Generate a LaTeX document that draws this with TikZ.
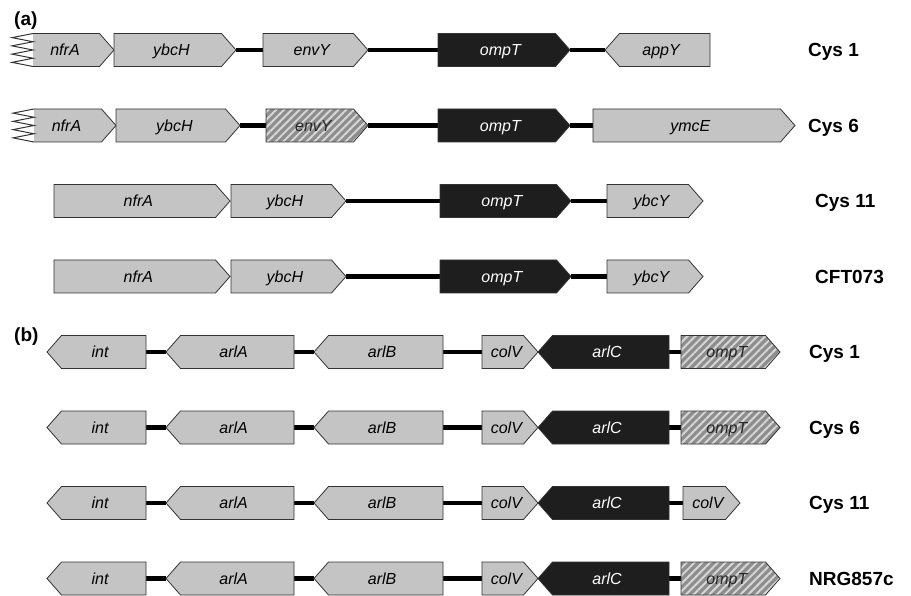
\documentclass[tikz,border=0pt]{standalone}
\usepackage{fontspec}
\setmainfont{Liberation Sans}
\usetikzlibrary{patterns.meta,backgrounds}

\definecolor{genegray}{HTML}{C4C4C4}
\definecolor{genedark}{HTML}{1E1E1E}
\definecolor{hatchbase}{HTML}{8E8E8E}
\definecolor{hatchline}{HTML}{D8D8D8}
\definecolor{edgegray}{HTML}{333333}

% half height of a gene arrow and length of its pointed end
\newcommand\hh{16.5}
\newcommand\tl{14.5}

\tikzset{
  genebox/.style={draw=edgegray, line width=0.8pt, line join=miter},
  grayfill/.style={fill=genegray},
  darkfill/.style={fill=genedark},
  hatchfill/.style={preaction={fill=hatchbase},
    pattern={Lines[angle=45,distance=5.5pt,line width=1.9pt]},
    pattern color=hatchline},
  genelabel/.style={inner sep=0pt, text height=11.5pt, text depth=0pt,
    font=\fontsize{16}{16}\selectfont\itshape},
  grayfill label/.style={text=black},
  darkfill label/.style={text=white},
  hatchfill label/.style={text=black!85},
  rowlabel/.style={anchor=west, inner sep=0pt, text height=13.6pt, text depth=0pt,
    font=\fontsize{19}{19}\selectfont\bfseries},
  panellabel/.style={anchor=west, inner sep=0pt, font=\fontsize{19}{19}\selectfont\bfseries},
  spacer/.style={line width=4.5pt, black},
}

% gene pointing right: id, left x, tip x, row y, fill style, name
\newcommand{\fwdgene}[6]{%
  \path[genebox,#5] (#2,#4-\hh) -- ({#3-\tl},#4-\hh) -- (#3,#4)
    -- ({#3-\tl},#4+\hh) -- (#2,#4+\hh) -- cycle;
  \coordinate (#1-w) at (#2,#4);
  \coordinate (#1-e) at (#3,#4);
  \node[genelabel,#5 label] (#1) at ({(#2+#3)/2-3.6},#4) {#6};
}
% gene pointing left: id, tip x, right x, row y, fill style, name
\newcommand{\revgene}[6]{%
  \path[genebox,#5] (#3,#4-\hh) -- ({#2+\tl},#4-\hh) -- (#2,#4)
    -- ({#2+\tl},#4+\hh) -- (#3,#4+\hh) -- cycle;
  \coordinate (#1-w) at (#2,#4);
  \coordinate (#1-e) at (#3,#4);
  \node[genelabel,#5 label] (#1) at ({(#2+#3)/2+3.6},#4) {#6};
}
% truncated gene with a zigzag left end: id, zigzag x, body x, tip x, row y, name
\newcommand{\cutgene}[6]{%
  \fill[genegray] (#3,#5-\hh) -- ({#4-\tl},#5-\hh) -- (#4,#5)
    -- ({#4-\tl},#5+\hh) -- (#3,#5+\hh) -- cycle;
  \draw[genebox] (#3,#5-\hh) -- ({#4-\tl},#5-\hh) -- (#4,#5)
    -- ({#4-\tl},#5+\hh) -- (#3,#5+\hh);
  \draw[genebox, line width=1pt] (#3,#5-\hh) \foreach \k in {1,...,8} {
    -- ({ifthenelse(isodd(\k),#2,#3)},{#5-\hh+\k*\hh/4})};
  \coordinate (#1-w) at (#2,#5);
  \coordinate (#1-e) at (#4,#5);
  \node[genelabel,grayfill label] (#1) at ({(#2+#4)/2+2},#5) {#6};
}
% the five genes shared by every row of panel (b)
\newcommand{\arlrow}[2]{%
  \revgene{#1int}{47}{146}{#2}{grayfill}{int}
  \revgene{#1arlA}{166}{294}{#2}{grayfill}{arlA}
  \revgene{#1arlB}{314}{443}{#2}{grayfill}{arlB}
  \fwdgene{#1colV}{482}{538}{#2}{grayfill}{colV}
  \revgene{#1arlC}{538}{669}{#2}{darkfill}{arlC}
}

\begin{document}
\begin{tikzpicture}[x=1pt,y=-1pt]
\useasboundingbox (0,0) rectangle (911,596);
\begin{pgfonlayer}{background}
  \fill[white] (0,0) rectangle (911,596);
\end{pgfonlayer}

% ---------- panel (a) ----------
\node[panellabel] (pa) at (14,21) {(a)};

% Cys 1
\cutgene{aonfrA}{12}{33}{114}{50}{nfrA}
\fwdgene{aoybcH}{114}{236}{50}{grayfill}{ybcH}
\fwdgene{aoenvY}{263}{368}{50}{grayfill}{envY}
\fwdgene{aoompT}{438}{570}{50}{darkfill}{ompT}
\revgene{aoappY}{605}{710}{50}{grayfill}{appY}
\node[rowlabel] (la1) at (808,50) {Cys 1};

% Cys 6
\cutgene{asnfrA}{13}{34}{116}{125.5}{nfrA}
\fwdgene{asybcH}{116}{240}{125.5}{grayfill}{ybcH}
\fwdgene{asenvY}{266}{368}{125.5}{hatchfill}{envY}
\fwdgene{asompT}{438}{570}{125.5}{darkfill}{ompT}
\fwdgene{asymcE}{593}{795}{125.5}{grayfill}{ymcE}
\node[rowlabel] (la2) at (808,125.5) {Cys 6};

% Cys 11
\fwdgene{aenfrA}{54}{230}{201}{grayfill}{nfrA}
\fwdgene{aeybcH}{231}{346}{201}{grayfill}{ybcH}
\fwdgene{aeompT}{440}{571}{201}{darkfill}{ompT}
\fwdgene{aeybcY}{607}{703}{201}{grayfill}{ybcY}
\node[rowlabel] (la3) at (815,201) {Cys 11};

% CFT073
\fwdgene{acnfrA}{54}{230}{276.5}{grayfill}{nfrA}
\fwdgene{acybcH}{231}{346}{276.5}{grayfill}{ybcH}
\fwdgene{acompT}{440}{571}{276.5}{darkfill}{ompT}
\fwdgene{acybcY}{607}{703}{276.5}{grayfill}{ybcY}
\node[rowlabel] (la4) at (815,276.5) {CFT073};

% ---------- panel (b) ----------
\node[panellabel] (pb) at (14,337) {(b)};

\arlrow{bo}{352}
\fwdgene{boompT}{681}{780}{352}{hatchfill}{ompT}
\node[rowlabel] (lb1) at (809,352) {Cys 1};

\arlrow{bs}{427.5}
\fwdgene{bsompT}{681}{780}{427.5}{hatchfill}{ompT}
\node[rowlabel] (lb2) at (809,427.5) {Cys 6};

\arlrow{be}{503}
\fwdgene{becolVb}{683}{740}{503}{grayfill}{colV}
\node[rowlabel] (lb3) at (809,503) {Cys 11};

\arlrow{bn}{578.5}
\fwdgene{bnompT}{681}{780}{578.5}{hatchfill}{ompT}
\node[rowlabel] (lb4) at (809,578.5) {NRG857c};

% ---------- intergenic spacers ----------
\begin{pgfonlayer}{background}
  \draw[spacer] (aoybcH-e) -- (aoenvY-w);
  \draw[spacer] (aoenvY-e) -- (aoompT-w);
  \draw[spacer] (aoompT-e) -- (aoappY-w);
  \draw[spacer] (asybcH-e) -- (asenvY-w);
  \draw[spacer] (asenvY-e) -- (asompT-w);
  \draw[spacer] (asompT-e) -- (asymcE-w);
  \draw[spacer] (aeybcH-e) -- (aeompT-w);
  \draw[spacer] (aeompT-e) -- (aeybcY-w);
  \draw[spacer] (acybcH-e) -- (acompT-w);
  \draw[spacer] (acompT-e) -- (acybcY-w);
  \foreach \r/\last in {bo/boompT, bs/bsompT, be/becolVb, bn/bnompT} {
    \draw[spacer] (\r int-e) -- (\r arlA-w);
    \draw[spacer] (\r arlA-e) -- (\r arlB-w);
    \draw[spacer] (\r arlB-e) -- (\r colV-w);
    \draw[spacer] (\r arlC-e) -- (\last-w);
  }
\end{pgfonlayer}
\end{tikzpicture}
\end{document}
